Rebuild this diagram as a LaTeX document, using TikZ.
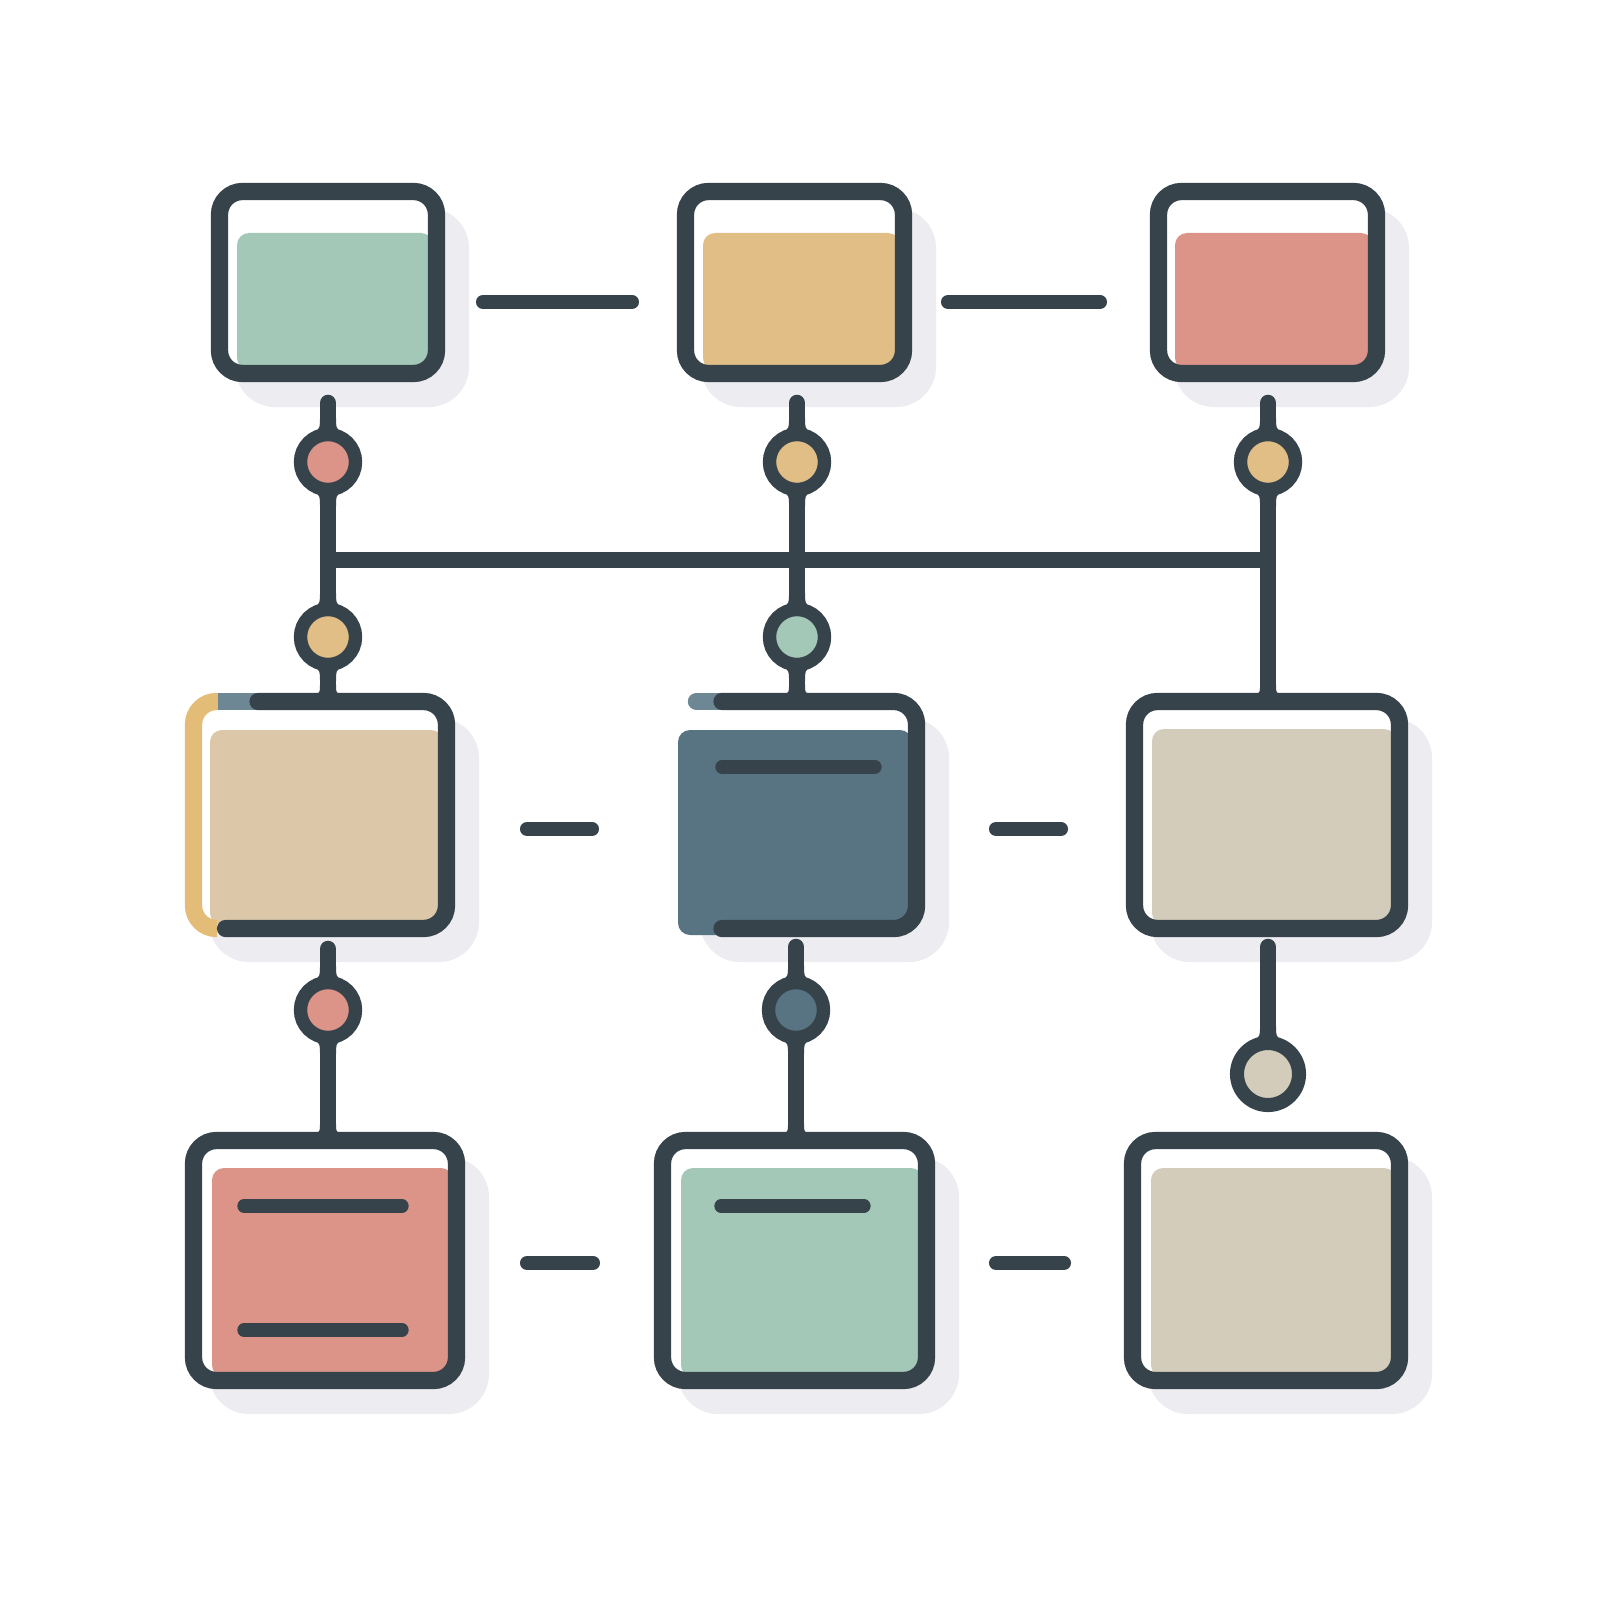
\documentclass[tikz,border=0pt]{standalone}
\usetikzlibrary{calc}
\definecolor{dk}{HTML}{36434A}
\definecolor{cgreen}{HTML}{A4C8B8}
\definecolor{corange}{HTML}{E2BE87}
\definecolor{cred}{HTML}{DC9388}
\definecolor{ctan}{HTML}{DCC8A9}
\definecolor{cslate}{HTML}{587482}
\definecolor{cbeige}{HTML}{D3CCBA}
\definecolor{clslate}{HTML}{6D8795}
\definecolor{cyel}{HTML}{E3BD78}
\definecolor{shc}{HTML}{ECECF1}
\pgfdeclarelayer{shadowlayer}
\pgfdeclarelayer{wires}
\pgfsetlayers{shadowlayer,wires,main}
\tikzset{
  boxst/.style={rectangle, draw=dk, line width=4.9pt, rounded corners=2.3mm, inner sep=0pt, outer sep=0pt},
  ring/.style={circle, draw=dk, line width=3.8pt, minimum size=0.55cm, inner sep=0pt, outer sep=0pt},
  bigring/.style={circle, draw=dk, line width=4pt, minimum size=0.62cm, inner sep=0pt, outer sep=0pt},
  stem/.style={draw=dk, line width=4.7pt, line cap=round},
  bus/.style={draw=dk, line width=4.8pt},
  dashln/.style={draw=dk, line width=4pt, line cap=round},
  barline/.style={draw=dk, line width=3.8pt, line cap=round},
  edgeln/.style={line width=4.9pt, rounded corners=2.3mm}
}
% [node opts]{name}{x1}{y1}{x2}{y2}{fill}{top offset}{left offset}
\newcommand\mybox[9][]{%
  \begin{pgfonlayer}{shadowlayer}
    \fill[shc, rounded corners=4mm] (#3+24,#4+25) rectangle (#5+24,#6+25);
  \end{pgfonlayer}
  \fill[white, rounded corners=2.2mm] (#3+8,#4+8) rectangle (#5-8,#6-8);
  \fill[#7, rounded corners=1.2mm] (#5-12,#6-12) -- (#3+#9,#6-12) -- (#3+#9,#4+#8) -- (#5-12,#4+#8) -- cycle;
  \node[boxst,#1, minimum width={(#5-#3-17)*0.01cm}, minimum height={(#6-#4-17)*0.01cm}] (#2) at ({(#3+#5)/2},{(#4+#6)/2}) {};
}
% flare where a stem meets a circle (above it; yscale=-1 for below)
\newcommand\flare[2][]{%
  \fill[dk, shift={(#2)}, #1] (-14,-29) .. controls (-8,-34) .. (-8,-44) -- (8,-44) .. controls (8,-34) .. (14,-29) -- cycle;
}
% fillet where a stem meets a box top
\newcommand\boxflare[1]{%
  \fill[dk, shift={(#1)}] (-15,-8) .. controls (-8,-8) .. (-8,-17) -- (8,-17) .. controls (8,-8) .. (15,-8) -- (15,0) -- (-15,0) -- cycle;
}
\begin{document}
\begin{tikzpicture}[x=0.01cm,y=-0.01cm]
\useasboundingbox (0,0) rectangle (1600,1600);
\begin{pgfonlayer}{shadowlayer}
  \fill[white] (0,0) rectangle (1600,1600);
\end{pgfonlayer}

% ---- boxes ----
\mybox{b1}{211}{183}{445}{382}{cgreen}{50}{26}
\mybox{b2}{677}{183}{912}{382}{corange}{50}{26}
\mybox{b3}{1150}{183}{1385}{382}{cred}{50}{25}
\mybox[draw=none]{b4}{185}{693}{455}{937}{ctan}{37}{25}
\mybox{b6}{1126}{693}{1408}{937}{cbeige}{36}{26}
\mybox{b7}{185}{1132}{465}{1389}{cred}{36}{27}
\mybox{b8}{654}{1132}{935}{1389}{cgreen}{36}{27}
\mybox{b9}{1124}{1132}{1408}{1389}{cbeige}{36}{27}

% box 4 partial outline
\draw[edgeln, draw=cyel] ([xshift=0.235cm]b4.south west) -- (b4.south west) -- (b4.north west) -- ([xshift=0.245cm]b4.north west);
\draw[edgeln, draw=clslate] ([xshift=0.245cm]b4.north west) -- ([xshift=0.645cm]b4.north west);
\draw[edgeln, draw=dk, line cap=round] ([xshift=0.645cm]b4.north west) -- (b4.north east) -- (b4.south east) -- ([xshift=0.32cm]b4.south west);

% box 5 (open left side)
\begin{pgfonlayer}{shadowlayer}
  \fill[shc, rounded corners=4mm] (700,718) rectangle (949,962);
\end{pgfonlayer}
\fill[white, rounded corners=2.2mm] (696,701) rectangle (917,929);
\fill[cslate, rounded corners=1.2mm] (912,935) -- (678,935) -- (678,730) -- (912,730) -- cycle;
\node[boxst, draw=none, minimum width=2.2cm, minimum height=2.27cm] (b5) at (806.5,815) {};
\draw[edgeln, draw=clslate, line cap=round] (b5.north west) -- ([xshift=0.255cm]b5.north west);
\draw[edgeln, draw=dk, line cap=round] ([xshift=0.255cm]b5.north west) -- (b5.north east) -- (b5.south east) -- ([xshift=0.255cm]b5.south west);

% inner bars
\coordinate (l5a) at (722,767); \coordinate (l5b) at (875,767);
\draw[barline] (l5a) -- (l5b);
\coordinate (l7a) at (244,1206); \coordinate (l7b) at (402,1206);
\draw[barline] (l7a) -- (l7b);
\coordinate (l7c) at (244,1330); \coordinate (l7d) at (402,1330);
\draw[barline] (l7c) -- (l7d);
\coordinate (l8a) at (721,1206); \coordinate (l8b) at (864,1206);
\draw[barline] (l8a) -- (l8b);

% ---- circles ----
\node[ring, fill=cred] (c1) at (328,462) {};
\node[ring, fill=corange] (c2) at (328,637) {};
\node[ring, fill=corange] (c3) at (797,462) {};
\node[ring, fill=cgreen] (c4) at (797,637) {};
\node[ring, fill=corange] (c5) at (1268,462) {};
\node[ring, fill=cred] (c6) at (328,1010) {};
\node[ring, fill=cslate] (c7) at (796,1010) {};
\node[bigring, fill=cbeige] (c8) at (1268,1074) {};

% ---- connectors ----
\coordinate (t1) at (328,403);
\coordinate (t2) at (797,403);
\coordinate (t3) at (1268,403);
\coordinate (u1) at (328,949);
\coordinate (u2) at (796,947);
\coordinate (u3) at (1268,947);
\coordinate (j1) at (328,560);
\coordinate (j3) at (1268,560);
\begin{pgfonlayer}{wires}
  \draw[stem] (t1) -- (c1);
  \draw[stem] (t2) -- (c3);
  \draw[stem] (t3) -- (c5);
  \draw[bus] (j1) -- (j3);
  \draw[stem] (c1) -- (c2);
  \draw[stem] (c3) -- (c4);
  \draw[stem] (c2) -- (c2 |- b4.north);
  \draw[stem] (c4) -- (c4 |- b5.north);
  \draw[stem] (c5) -- (c5 |- b6.north);
  \draw[stem] (u1) -- (c6);
  \draw[stem] (u2) -- (c7);
  \draw[stem] (u3) -- (c8);
  \draw[stem] (c6) -- (c6 |- b7.north);
  \draw[stem] (c7) -- (c7 |- b8.north);
  % flares at circles
  \flare{c1} \flare[yscale=-1]{c1}
  \flare{c2} \flare[yscale=-1]{c2}
  \flare{c3} \flare[yscale=-1]{c3}
  \flare{c4} \flare[yscale=-1]{c4}
  \flare{c5} \flare[yscale=-1]{c5}
  \flare{c6} \flare[yscale=-1]{c6}
  \flare{c7} \flare[yscale=-1]{c7}
  \flare[yshift=0.04cm]{c8}
  % fillets at box tops
  \boxflare{c2 |- b4.north}
  \boxflare{c4 |- b5.north}
  \boxflare{c5 |- b6.north}
  \boxflare{c6 |- b7.north}
  \boxflare{c7 |- b8.north}
\end{pgfonlayer}

% ---- dashes between boxes ----
\coordinate (h1a) at (483,302); \coordinate (h1b) at (632,302);
\coordinate (h2a) at (948,302); \coordinate (h2b) at (1100,302);
\coordinate (h3a) at (527,829); \coordinate (h3b) at (592,829);
\coordinate (h4a) at (996,829); \coordinate (h4b) at (1061,829);
\coordinate (h5a) at (527,1263); \coordinate (h5b) at (593,1263);
\coordinate (h6a) at (996,1263); \coordinate (h6b) at (1064,1263);
\draw[dashln] (h1a) -- (h1b);
\draw[dashln] (h2a) -- (h2b);
\draw[dashln] (h3a) -- (h3b);
\draw[dashln] (h4a) -- (h4b);
\draw[dashln] (h5a) -- (h5b);
\draw[dashln] (h6a) -- (h6b);
\end{tikzpicture}
\end{document}
